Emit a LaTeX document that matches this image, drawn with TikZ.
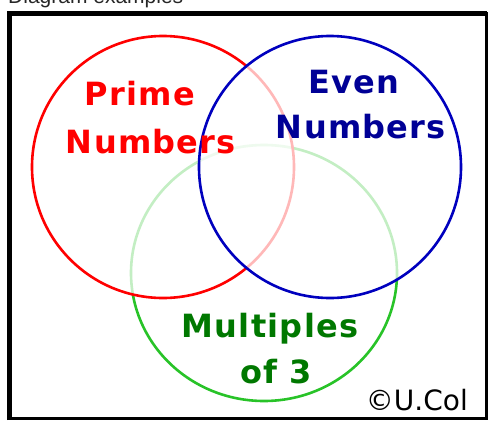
\documentclass[tikz,border=0pt]{standalone}
\usepackage{fontspec}
\usepackage{tikz}
\newfontfamily\pixfont[LetterSpace=4]{DejaVu Sans}
\newfontfamily\signfont{DejaVu Sans}
\newfontfamily\titlefont{Liberation Sans}
\definecolor{vennred}{RGB}{255,0,0}
\definecolor{vennblue}{RGB}{0,0,190}
\definecolor{venngreen}{RGB}{40,195,40}
\definecolor{labelblue}{RGB}{0,0,150}
\definecolor{labelgreen}{RGB}{0,120,0}
\tikzset{
  venn/.style={line width=2.6pt},
  veil/.style={fill=white,fill opacity=0.72},
  vennlabel/.style={font=\pixfont\bfseries\fontsize{32}{32}\selectfont,anchor=base,inner sep=0pt}
}

\begin{document}
\begin{tikzpicture}[x=1pt,y=-1pt]
    \useasboundingbox (0,0) rectangle (490,429);
    \clip (0,0) rectangle (490,429);

    % titolo
    \node[font=\titlefont\fontsize{21}{21}\selectfont,text=black!85,anchor=base west,inner sep=0pt] (titolo) at (8,3.5) {Diagram examples};

    % cornice
    \draw[line width=3pt] (9,13) rectangle (486.5,418.5);
    \draw[line width=5pt] (9,420) -- (9,13) -- (486.5,13);

    % cerchi
    \draw[venn,venngreen] (264,273) ellipse [x radius=133,y radius=128];
    \fill[veil] (163,167) circle (131);
    \draw[venn,vennred] (163,167) circle (131);
    \fill[veil] (330,167) circle (131);
    \draw[venn,vennblue] (330,167) circle (131);

    % etichette
    \node[vennlabel,text=vennred] (primi1) at (140,105) {Prime};
    \node[vennlabel,text=vennred] (primi2) at (151,153) {Numbers};
    \node[vennlabel,text=labelblue] (pari1) at (354,93) {Even};
    \node[vennlabel,text=labelblue] (pari2) at (361,138) {Numbers};
    \node[vennlabel,text=labelgreen] (multipli1) at (270,337) {Multiples};
    \node[vennlabel,text=labelgreen] (multipli2) at (276,383) {of 3};

    % firma
    \node[font=\signfont\fontsize{28}{28}\selectfont,anchor=base east,inner sep=0pt] (firma) at (468,410) {©U.Col};
\end{tikzpicture}
\end{document}
